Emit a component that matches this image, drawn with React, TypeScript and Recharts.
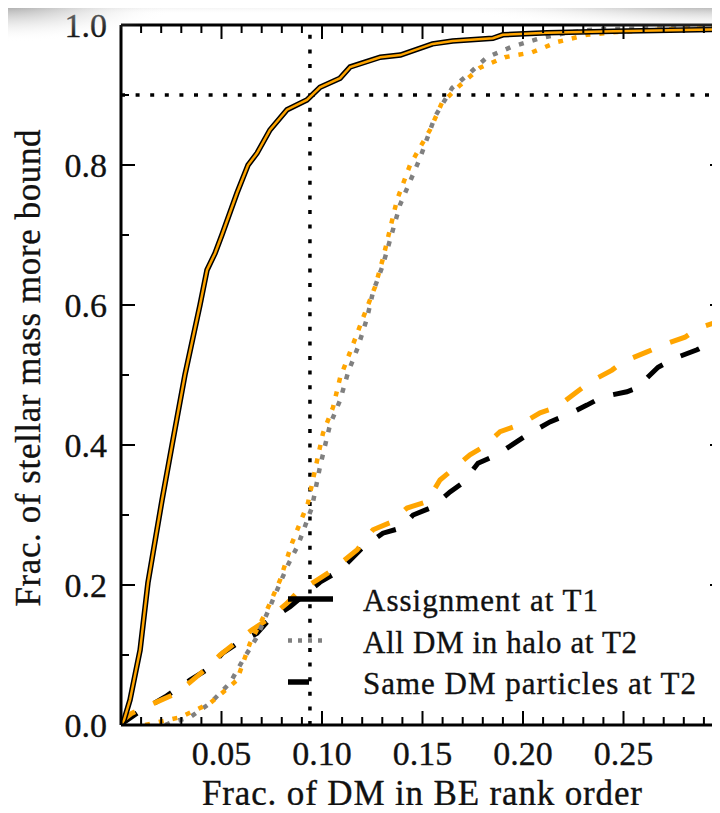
import { Line, LineChart, ReferenceLine, XAxis, YAxis } from "recharts";

const SERIF = '"Liberation Serif", "Times New Roman", serif';

// cumulative curves: [frac. of DM in BE rank order, frac. of stellar mass more bound]
const assignT1: [number, number][] = [
  [0, 0], [0.0015, 0.007], [0.0045, 0.036], [0.0095, 0.107], [0.0134, 0.203],
  [0.0204, 0.321], [0.0254, 0.4], [0.0318, 0.5], [0.0393, 0.6], [0.0428, 0.65],
  [0.0468, 0.674], [0.0502, 0.7], [0.0577, 0.76], [0.0632, 0.8], [0.0677, 0.817],
  [0.0741, 0.85], [0.0826, 0.879], [0.0925, 0.893], [0.099, 0.911], [0.109, 0.924],
  [0.114, 0.94], [0.129, 0.954], [0.139, 0.957], [0.155, 0.973], [0.165, 0.977],
  [0.185, 0.981], [0.19, 0.986], [0.212, 0.989], [0.245, 0.991], [0.3, 0.994],
];

const allDmT2: [number, number][] = [
  [0.022, 0], [0.0244, 0.003], [0.0343, 0.011], [0.0443, 0.031], [0.0542, 0.06],
  [0.0607, 0.093], [0.0677, 0.126], [0.0756, 0.179], [0.0826, 0.226], [0.0881, 0.257],
  [0.095, 0.311], [0.099, 0.369], [0.104, 0.429], [0.109, 0.464], [0.1129, 0.503],
  [0.1179, 0.54], [0.1224, 0.581], [0.1254, 0.619], [0.1303, 0.657], [0.1388, 0.743],
  [0.1488, 0.81], [0.1562, 0.869], [0.1647, 0.91], [0.1726, 0.929], [0.1821, 0.954],
  [0.1945, 0.969], [0.2085, 0.981], [0.2219, 0.989], [0.2368, 0.994], [0.3, 0.997],
];

const allDmT2Alt: [number, number][] = [
  [0.012, 0], [0.0294, 0.011], [0.0443, 0.031], [0.0577, 0.064], [0.0642, 0.117],
  [0.0726, 0.164], [0.0791, 0.207], [0.0851, 0.26], [0.093, 0.317], [0.0975, 0.377],
  [0.1005, 0.417], [0.1055, 0.454], [0.109, 0.496], [0.114, 0.533], [0.1214, 0.589],
  [0.1264, 0.626], [0.1303, 0.666], [0.1373, 0.75], [0.1438, 0.8], [0.1537, 0.85],
  [0.1597, 0.889], [0.1687, 0.914], [0.1786, 0.939], [0.191, 0.954], [0.2045, 0.961],
  [0.2174, 0.976], [0.2318, 0.986], [0.2468, 0.99], [0.2746, 0.994], [0.3, 0.996],
];

const sameDmT2: [number, number][] = [
  [0, 0], [0.001, 0.003], [0.008, 0.017], [0.0219, 0.04], [0.0343, 0.064],
  [0.0428, 0.079], [0.0507, 0.103], [0.0582, 0.117], [0.0677, 0.131], [0.0726, 0.147],
  [0.0841, 0.169], [0.0891, 0.181], [0.099, 0.204], [0.109, 0.221], [0.1204, 0.254],
  [0.1303, 0.274], [0.1388, 0.281], [0.1453, 0.3], [0.1547, 0.311], [0.1637, 0.333],
  [0.1701, 0.346], [0.1776, 0.374], [0.1871, 0.386], [0.196, 0.403], [0.2035, 0.417],
  [0.2134, 0.433], [0.2219, 0.443], [0.2318, 0.457], [0.2398, 0.469], [0.2517, 0.476],
  [0.2582, 0.483], [0.2607, 0.493], [0.2672, 0.511], [0.2756, 0.524], [0.2866, 0.536],
  [0.294, 0.547], [0.3, 0.554],
];

const sameDmT2Alt: [number, number][] = [
  [0, 0], [0.001, 0.007], [0.0055, 0.017], [0.0179, 0.033], [0.0259, 0.043],
  [0.0343, 0.061], [0.0418, 0.079], [0.0493, 0.1], [0.0567, 0.117], [0.0652, 0.136],
  [0.0726, 0.15], [0.0826, 0.174], [0.0876, 0.189], [0.0975, 0.207], [0.104, 0.219],
  [0.1174, 0.25], [0.1254, 0.279], [0.1338, 0.289], [0.1423, 0.31], [0.1522, 0.319],
  [0.1587, 0.35], [0.1736, 0.386], [0.1801, 0.397], [0.1886, 0.419], [0.1985, 0.429],
  [0.2085, 0.446], [0.2169, 0.454], [0.2259, 0.474], [0.2333, 0.49], [0.2443, 0.507],
  [0.2498, 0.519], [0.2617, 0.533], [0.2697, 0.543], [0.2806, 0.554], [0.2871, 0.567],
  [0.3, 0.579],
];

const xTicks = [
  0, 0.01, 0.02, 0.03, 0.04, 0.05, 0.06, 0.07, 0.08, 0.09, 0.1, 0.11, 0.12, 0.13, 0.14, 0.15,
  0.16, 0.17, 0.18, 0.19, 0.2, 0.21, 0.22, 0.23, 0.24, 0.25, 0.26, 0.27, 0.28, 0.29, 0.3,
];
const xLabels = ["0.05", "0.10", "0.15", "0.20", "0.25"];
const yTicks = [0, 0.1, 0.2, 0.3, 0.4, 0.5, 0.6, 0.7, 0.8, 0.9, 1];
const yLabels = ["0.0", "0.2", "0.4", "0.6", "0.8", "1.0"];

const cutX = 0.094;
const cutY = 0.9;

const legendItems = [
  { name: "Assignment at T1", color: "#000", dash: undefined, len: 45 },
  { name: "All DM in halo at T2", color: "#808080", dash: "4 6", len: 36 },
  { name: "Same DM particles at T2", color: "#000", dash: "21 20", len: 30 },
];
const legendWidths = [235, 274, 333];

const toPts = (arr: [number, number][]) => arr.map(([x, y]) => ({ x, y }));

// thin outline makes the serif glyphs a touch heavier
const ink = { fill: "#111", stroke: "#111", strokeWidth: 0.35 };

type Side = "bottom" | "top" | "left" | "right";

// inward-pointing ticks, labels only on the bottom/left axes
function makeTick(side: Side) {
  return function Tick(props: any) {
    const { x, y, payload } = props;
    const v: number = payload.value;
    if (side === "bottom" || side === "top") {
      const major = Math.round(v * 100) % 5 === 0;
      const len = major ? 14 : 8;
      const dir = side === "bottom" ? -1 : 1;
      const label = xLabels.find((l) => Math.abs(parseFloat(l) - v) < 1e-6);
      return (
        <g>
          <line x1={x} y1={y} x2={x} y2={y + dir * len} stroke="#000" strokeWidth={2} />
          {side === "bottom" && label && (
            <text x={x} y={y + 40} textAnchor="middle" fontFamily={SERIF} fontSize={34} {...ink}>
              {label}
            </text>
          )}
        </g>
      );
    }
    const major = Math.round(v * 10) % 2 === 0;
    const len = major ? 14 : 8;
    const dir = side === "left" ? 1 : -1;
    const label = yLabels.find((l) => Math.abs(parseFloat(l) - v) < 1e-6);
    return (
      <g>
        <line x1={x} y1={y} x2={x + dir * len} y2={y} stroke="#000" strokeWidth={2} />
        {side === "left" && label && (
          <text x={x - 14} y={y + 12} textAnchor="end" fontFamily={SERIF} fontSize={34} {...ink}>
            {label}
          </text>
        )}
      </g>
    );
  };
}

const spine = { stroke: "#000", strokeWidth: 3 };

export default function App() {
  return (
    <div style={{ position: "relative", width: 720, height: 813, margin: -8, overflow: "hidden", background: "#fff" }}>
      <LineChart width={740} height={813} margin={{ top: 24, right: 15, bottom: 87, left: 120 }}>
        <XAxis
          xAxisId="b"
          type="number"
          dataKey="x"
          domain={[0, 0.3]}
          ticks={xTicks}
          interval={0}
          height={1}
          tickSize={0}
          tickMargin={0}
          tickLine={false}
          axisLine={spine}
          tick={makeTick("bottom")}
          allowDataOverflow
        />
        <XAxis
          xAxisId="t"
          orientation="top"
          type="number"
          dataKey="x"
          domain={[0, 0.3]}
          ticks={xTicks}
          interval={0}
          height={1}
          tickSize={0}
          tickMargin={0}
          tickLine={false}
          axisLine={spine}
          tick={makeTick("top")}
          allowDataOverflow
        />
        <YAxis
          yAxisId="l"
          type="number"
          domain={[0, 1]}
          ticks={yTicks}
          interval={0}
          width={1}
          tickSize={0}
          tickMargin={0}
          tickLine={false}
          axisLine={spine}
          tick={makeTick("left")}
          allowDataOverflow
        />
        <YAxis
          yAxisId="r"
          orientation="right"
          type="number"
          domain={[0, 1]}
          ticks={yTicks}
          interval={0}
          width={1}
          tickSize={0}
          tickMargin={0}
          tickLine={false}
          axisLine={spine}
          tick={makeTick("right")}
          allowDataOverflow
        />

        <ReferenceLine xAxisId="b" yAxisId="l" x={cutX} stroke="#000" strokeWidth={3.5} strokeDasharray="4 10.6" />
        <ReferenceLine xAxisId="b" yAxisId="l" y={cutY} stroke="#000" strokeWidth={3.5} strokeDasharray="4 10.6" />

        <Line xAxisId="b" yAxisId="l" data={toPts(sameDmT2)} dataKey="y" type="linear" stroke="#000"
          strokeWidth={5} strokeDasharray="20 20" dot={false} isAnimationActive={false} />
        <Line xAxisId="b" yAxisId="l" data={toPts(sameDmT2Alt)} dataKey="y" type="linear" stroke="#ffa500"
          strokeWidth={5} strokeDasharray="20 20" dot={false} isAnimationActive={false} />
        <Line xAxisId="b" yAxisId="l" data={toPts(allDmT2)} dataKey="y" type="linear" stroke="#808080"
          strokeWidth={4.5} strokeDasharray="5 9" dot={false} isAnimationActive={false} />
        <Line xAxisId="b" yAxisId="l" data={toPts(allDmT2Alt)} dataKey="y" type="linear" stroke="#ffa500"
          strokeWidth={4.5} strokeDasharray="5 9" dot={false} isAnimationActive={false} />
        <Line xAxisId="b" yAxisId="l" data={toPts(assignT1)} dataKey="y" type="linear" stroke="#000"
          strokeWidth={5.5} dot={false} isAnimationActive={false} />
        <Line xAxisId="b" yAxisId="l" data={toPts(assignT1)} dataKey="y" type="linear" stroke="#ffa500"
          strokeWidth={2.5} dot={false} isAnimationActive={false} />
      </LineChart>

      <svg width={720} height={813} style={{ position: "absolute", left: 0, top: 0, pointerEvents: "none" }}>
        <defs>
          <linearGradient id="fadeTop" x1="0" y1="0" x2="0" y2="1">
            <stop offset="0" stopColor="#9a9a9a" stopOpacity={0.6} />
            <stop offset="1" stopColor="#fff" stopOpacity={0} />
          </linearGradient>
          <radialGradient id="cornerR" cx="1" cy="0" r="1">
            <stop offset="0" stopColor="#777" stopOpacity={0.85} />
            <stop offset="1" stopColor="#fff" stopOpacity={0} />
          </radialGradient>
          <radialGradient id="cornerL" cx="0" cy="0" r="1">
            <stop offset="0" stopColor="#808080" stopOpacity={0.9} />
            <stop offset="1" stopColor="#fff" stopOpacity={0} />
          </radialGradient>
        </defs>
        <rect x={0} y={0} width={720} height={14} fill="url(#fadeTop)" />
        <rect x={440} y={0} width={280} height={30} fill="url(#cornerR)" />
        <rect x={0} y={0} width={180} height={42} fill="url(#cornerL)" />

        <rect x={0} y={23} width={3} height={703} fill="#111" />

        <text
          x={40}
          y={368}
          transform="rotate(-90 40 368)"
          textAnchor="middle"
          fontFamily={SERIF}
          fontSize={35}
          {...ink}
          textLength={477}
          lengthAdjust="spacing"
        >
          Frac. of stellar mass more bound
        </text>
        <text
          x={422}
          y={805}
          textAnchor="middle"
          fontFamily={SERIF}
          fontSize={35}
          {...ink}
          textLength={440}
          lengthAdjust="spacing"
        >
          Frac. of DM in BE rank order
        </text>

        {legendItems.map((item, i) => {
          const cy = 599 + i * 41.5;
          return (
            <g key={item.name}>
              <line x1={288} y1={cy} x2={288 + item.len} y2={cy} stroke={item.color}
                strokeWidth={item.dash === "4 6" ? 4.5 : 5.5} strokeDasharray={item.dash} />
              <text x={363} y={cy + 12} fontFamily={SERIF} fontSize={31} {...ink}
                textLength={legendWidths[i]} lengthAdjust="spacing">
                {item.name}
              </text>
            </g>
          );
        })}
      </svg>
    </div>
  );
}
